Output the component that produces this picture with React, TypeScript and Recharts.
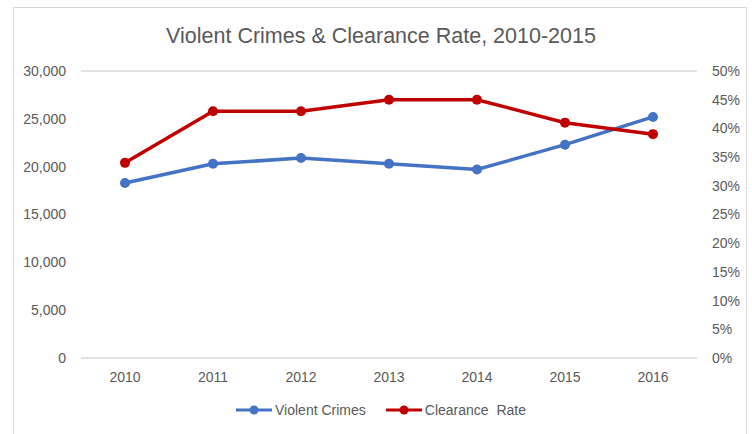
import React from "react";
import { LineChart, Line, XAxis, YAxis, CartesianGrid } from "recharts";

const years = ["2010", "2011", "2012", "2013", "2014", "2015", "2016"];
const violentCrimes = [18300, 20300, 20900, 20300, 19700, 22300, 25200];
const clearanceRate = [34, 43, 43, 45, 45, 41, 39];
const leftTicks = [0, 5000, 10000, 15000, 20000, 25000, 30000];
const rightTicks = [0, 5, 10, 15, 20, 25, 30, 35, 40, 45, 50];

const data = years.map((y, i) => ({ year: y, crimes: violentCrimes[i], rate: clearanceRate[i] }));

const FONT = "'Liberation Sans', Arial, sans-serif";
const GRAY = "#595959";

const LegendContent = () => {
  const items = [
    { label: "Violent Crimes", color: "#4472C4" },
    { label: "Clearance\u00a0 Rate", color: "#C00000" },
  ];
  return (
    <div style={{ display: "flex", justifyContent: "center", gap: 20, fontFamily: FONT, fontSize: 14, color: GRAY }}>
      {items.map((it) => (
        <div key={it.label} style={{ display: "flex", alignItems: "center" }}>
          <svg width={36} height={12} style={{ marginRight: 3 }}>
            <line x1={0} y1={6} x2={36} y2={6} stroke={it.color} strokeWidth={3} />
            <circle cx={18} cy={6} r={4.5} fill={it.color} />
          </svg>
          <span>{it.label}</span>
        </div>
      ))}
    </div>
  );
};

export default function App() {
  return (
    <div style={{ position: "fixed", left: 0, top: 0, width: 752, height: 434, background: "#fff", overflow: "hidden" }}>
      <div style={{ position: "absolute", left: 13, top: 7, width: 734, height: 440, border: "1px solid #d9d9d9", boxSizing: "border-box" }} />
      <div style={{ position: "absolute", left: 0, top: 24, width: 762, textAlign: "center", fontFamily: FONT, fontSize: 21.5, color: GRAY }}>
        Violent Crimes &amp; Clearance Rate, 2010-2015
      </div>
      <div style={{ position: "absolute", left: 0, top: 402, width: 762 }}>
        <LegendContent />
      </div>
      <div style={{ position: "absolute", left: 0, top: 0 }}>
        <LineChart width={752} height={434} data={data} margin={{ top: 71, right: 0, left: 0, bottom: 46 }}>
          <CartesianGrid vertical={false} stroke="#d9d9d9" strokeWidth={1.3} />
          <XAxis
            dataKey="year"
            axisLine={false}
            tickLine={false}
            tickMargin={8}
            padding={{ left: 44, right: 44 }}
            tick={{ fill: GRAY, fontSize: 14, fontFamily: FONT }}
          />
          <YAxis
            yAxisId="left"
            width={81}
            domain={[0, 30000]}
            ticks={leftTicks}
            axisLine={false}
            tickLine={false}
            tickMargin={9}
            tickFormatter={(v: number) => v.toLocaleString("en-US")}
            tick={{ fill: GRAY, fontSize: 14, fontFamily: FONT }}
          />
          <YAxis
            yAxisId="right"
            orientation="right"
            width={55}
            domain={[0, 50]}
            ticks={rightTicks}
            axisLine={false}
            tickLine={false}
            tickMargin={9}
            tickFormatter={(v: number) => `${v}%`}
            tick={{ fill: GRAY, fontSize: 14, fontFamily: FONT }}
          />
          <Line yAxisId="left" dataKey="crimes" stroke="#4472C4" strokeWidth={3.5} dot={{ r: 5, fill: "#4472C4", stroke: "#4472C4", strokeWidth: 0 }} isAnimationActive={false} />
          <Line yAxisId="right" dataKey="rate" stroke="#C00000" strokeWidth={3.5} dot={{ r: 5, fill: "#C00000", stroke: "#C00000", strokeWidth: 0 }} isAnimationActive={false} />
        </LineChart>
      </div>
    </div>
  );
}
